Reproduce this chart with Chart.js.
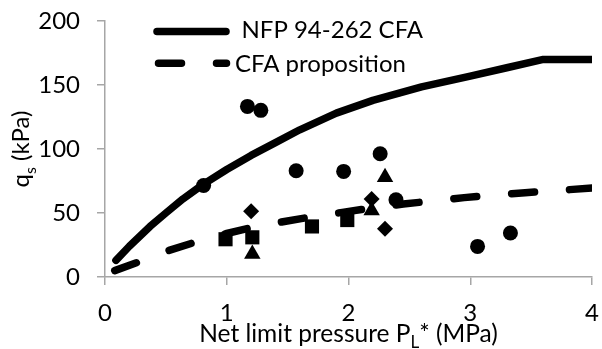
<!DOCTYPE html>
<html>
<head>
<meta charset="utf-8">
<script src="https://cdn.jsdelivr.net/npm/chart.js@4/dist/chart.umd.min.js"></script>
<style>
  html, body { margin: 0; padding: 0; background: #fff; }
  #wrap { width: 602px; height: 349px; }
</style>
</head>
<body>
<div id="wrap"><canvas id="qsChart" width="602" height="349"></canvas></div>
<script>
// ── Data ──
var xTicks = [0, 1, 2, 3, 4];
var yTicks = [0, 50, 100, 150, 200];

var nfpLabel = "NFP 94-262 CFA";
var nfpX = [0.09, 0.2, 0.37, 0.5, 0.64, 0.8, 1.0, 1.2, 1.4, 1.6, 1.9, 2.2, 2.6, 3.0, 3.3, 3.6, 4.0];
var nfpY = [13, 24, 39.5, 50, 61, 72, 84, 95, 105, 115, 128, 138, 148.5, 157, 163.5, 170, 170];

var propLabel = "CFA proposition";
var propX = [0.08, 0.3, 0.5, 0.75, 1.0, 1.2, 1.45, 1.7, 1.95, 2.2, 2.45, 2.7, 2.95, 3.2, 3.45, 3.7, 4.0];
var propY = [5, 12.5, 20, 27.5, 34, 38.5, 43, 47, 50.5, 54, 57, 59.5, 62, 64, 65.8, 67.5, 69.5];

var circleX = [0.81, 1.17, 1.28, 1.57, 1.96, 2.26, 2.39, 3.06, 3.33];
var circleY = [71.5, 133.3, 130.2, 83, 82.5, 96.3, 60.4, 23.9, 34.4];

var triangleX = [1.21, 2.19, 2.30];
var triangleY = [18, 52, 78];

var diamondX = [1.2, 2.19, 2.30];
var diamondY = [51.3, 61, 37.7];

var squareX = [0.99, 1.21, 1.70, 1.99];
var squareY = [29.5, 31, 39.5, 44.5];

(function () {
  "use strict";

  var FONT = "Lato, 'Open Sans', sans-serif";
  var SIZE = 24;
  var INK = "#000";
  var AXIS = "#a6a6a6";

  function pts(xs, ys) {
    return xs.map(function (x, i) { return { x: x, y: ys[i] }; });
  }

  function markers(xs, ys, style, radius) {
    return {
      type: "scatter", data: pts(xs, ys), pointStyle: style,
      pointRadius: radius, pointBackgroundColor: INK, pointBorderWidth: 0,
      showLine: false, order: 0
    };
  }

  // ── Axis titles with subscripts + legend, drawn over the chart ──
  function drawRuns(ctx, runs, size) {
    var w = 0;
    runs.forEach(function (r) {
      ctx.font = (r.sub ? Math.round(size * 0.68) : size) + "px " + FONT;
      r.w = ctx.measureText(r.t).width;
      w += r.w;
    });
    var x = -w / 2;
    runs.forEach(function (r) {
      ctx.font = (r.sub ? Math.round(size * 0.68) : size) + "px " + FONT;
      ctx.fillText(r.t, x, r.sub ? size * 0.28 : 0);
      x += r.w;
    });
  }

  var overlay = {
    id: "overlay",
    afterDraw: function (chart) {
      var ctx = chart.ctx, area = chart.chartArea;
      ctx.save();
      ctx.fillStyle = INK;
      ctx.textBaseline = "alphabetic";
      ctx.textAlign = "left";

      // x title
      ctx.save();
      ctx.translate((area.left + area.right) / 2, 341.5);
      drawRuns(ctx, [{ t: "Net limit pressure P" }, { t: "L", sub: true }, { t: "* (MPa)" }], 24.5);
      ctx.restore();

      // y title
      ctx.save();
      ctx.translate(29, (area.top + area.bottom) / 2);
      ctx.rotate(-Math.PI / 2);
      drawRuns(ctx, [{ t: "q" }, { t: "s", sub: true }, { t: " (kPa)" }], SIZE);
      ctx.restore();

      // legend
      var rows = [
        { ds: chart.data.datasets[0], y: 31.5, x0: 157, x1: 226, tx: 241.5, ty: 38.3 },
        { ds: chart.data.datasets[1], y: 63.3, x0: 158.5, x1: 226.5, tx: 235, ty: 71.7 }
      ];
      rows.forEach(function (r) {
        ctx.save();
        ctx.strokeStyle = r.ds.borderColor;
        ctx.lineWidth = r.ds.borderWidth;
        ctx.lineCap = "round";
        ctx.setLineDash(r.ds.borderDash || []);
        ctx.beginPath();
        ctx.moveTo(r.x0, r.y);
        ctx.lineTo(r.x1, r.y);
        ctx.stroke();
        ctx.restore();
        ctx.font = SIZE + "px " + FONT;
        ctx.fillText(r.ds.label, r.tx, r.ty);
      });
      ctx.restore();
    }
  };

  var tickFont = { family: FONT, size: SIZE };

  new Chart(document.getElementById("qsChart"), {
    type: "scatter",
    data: {
      datasets: [
        {
          label: nfpLabel, type: "line", data: pts(nfpX, nfpY),
          borderColor: INK, borderWidth: 7.5, borderCapStyle: "round", borderJoinStyle: "round",
          pointRadius: 0, tension: 0, fill: false, order: 1
        },
        {
          label: propLabel, type: "line", data: pts(propX, propY),
          borderColor: INK, borderWidth: 7.5, borderCapStyle: "round", borderJoinStyle: "round",
          borderDash: [23, 35], pointRadius: 0, tension: 0, fill: false, order: 1
        },
        markers(circleX, circleY, "circle", 7.5),
        markers(triangleX, triangleY, "triangle", 9.5),
        markers(diamondX, diamondY, "rectRot", 8),
        markers(squareX, squareY, "rect", 10)
      ]
    },
    options: {
      responsive: false,
      devicePixelRatio: 1,
      animation: false,
      layout: { padding: { top: 21, right: 7, left: 0, bottom: 0 } },
      plugins: { legend: { display: false }, tooltip: { enabled: false } },
      scales: {
        x: {
          type: "linear", min: xTicks[0], max: xTicks[xTicks.length - 1],
          afterBuildTicks: function (s) { s.ticks = xTicks.map(function (v) { return { value: v }; }); },
          afterFit: function (s) { s.height = 72; s.paddingLeft = 0; s.paddingRight = 0; },
          ticks: { font: tickFont, color: INK, padding: 14, maxRotation: 0 },
          grid: { drawOnChartArea: false, drawTicks: true, tickLength: 8, color: AXIS, lineWidth: 1.5 },
          border: { display: true, color: AXIS, width: 1.5 }
        },
        y: {
          type: "linear", min: yTicks[0], max: yTicks[yTicks.length - 1],
          afterBuildTicks: function (s) { s.ticks = yTicks.map(function (v) { return { value: v }; }); },
          afterFit: function (s) { s.width = 105; s.paddingTop = 0; s.paddingBottom = 0; },
          ticks: { font: tickFont, color: INK, padding: 17 },
          grid: { drawOnChartArea: false, drawTicks: true, tickLength: 8, color: AXIS, lineWidth: 1.5 },
          border: { display: true, color: AXIS, width: 1.5 }
        }
      }
    },
    plugins: [overlay]
  });
})();
</script>
</body>
</html>
